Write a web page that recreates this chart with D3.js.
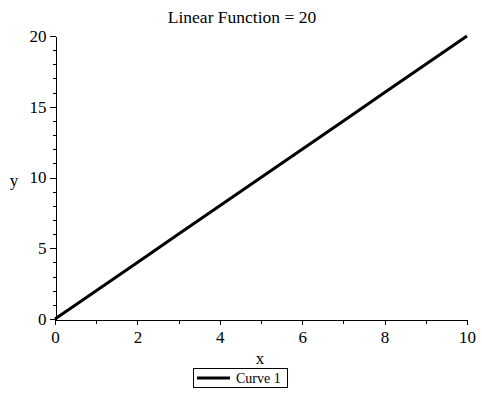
<!DOCTYPE html>
<html><head><meta charset="utf-8">
<script src="https://cdn.jsdelivr.net/npm/d3@7"></script>
<style>body{margin:0;background:#fff}svg{display:block}</style>
</head><body>
<svg id="c" width="482" height="400"></svg>
<script>
const title = "Linear Function = 20";
const xValues = [0,1,2,3,4,5,6,7,8,9,10];
const yValues = [0,2,4,6,8,10,12,14,16,18,20];
const xMajorTicks = [0,2,4,6,8,10];
const xMinorTicks = [1,3,5,7,9];
const yMajorTicks = [0,5,10,15,20];
const yMinorTicks = [1,2,3,4,6,7,8,9,11,12,13,14,16,17,18,19];
const seriesName = "Curve 1";

const FONT = "'Liberation Serif', 'Times New Roman', Times, 'DejaVu Serif', serif";
const svg = d3.select("#c");
const x = d3.scaleLinear().domain([0,10]).range([55,467]);
const y = d3.scaleLinear().domain([0,20]).range([319,36]);

// x axis
const xg = svg.append("g").attr("transform","translate(0,319.5)");
xg.append("g").call(d3.axisBottom(x).tickValues(xMinorTicks).tickSize(4).tickFormat(""))
  .call(g=>g.select(".domain").remove());
xg.append("g").call(d3.axisBottom(x).tickValues(xMajorTicks).tickSize(5).tickSizeOuter(0).tickPadding(6).tickFormat(d3.format("d")));
// y axis
const yg = svg.append("g").attr("transform","translate(55.5,0)");
yg.append("g").call(d3.axisLeft(y).tickValues(yMinorTicks).tickSize(3).tickFormat(""))
  .call(g=>g.select(".domain").remove());
yg.append("g").call(d3.axisLeft(y).tickValues(yMajorTicks).tickSize(6).tickSizeOuter(0).tickPadding(3).tickFormat(d3.format("d")));
svg.selectAll("g").attr("font-family",null).attr("font-size",null);
svg.selectAll(".tick text").style("font-family",FONT).style("font-size","17px").attr("fill","#000");
svg.selectAll(".tick line, .domain").attr("stroke","#000").attr("shape-rendering","crispEdges");

// line
svg.append("path").datum(xValues.map((v,i)=>[v,yValues[i]]))
  .attr("fill","none").attr("stroke","#000").attr("stroke-width",3)
  .attr("d", d3.line().x(d=>x(d[0])).y(d=>y(d[1])));

// title & labels
svg.append("text").attr("x",242).attr("y",23).attr("text-anchor","middle").style("font-family",FONT).style("font-size","17.5px").text(title);
svg.append("text").attr("x",14).attr("y",186).attr("text-anchor","middle").style("font-family",FONT).style("font-size","17px").text("y");
svg.append("text").attr("x",260).attr("y",364).attr("text-anchor","middle").style("font-family",FONT).style("font-size","17px").text("x");

// legend
svg.append("rect").attr("x",193.5).attr("y",368.5).attr("width",94).attr("height",19)
  .attr("fill","#fff").attr("stroke","#000").attr("shape-rendering","crispEdges");
svg.append("line").attr("x1",197).attr("x2",230).attr("y1",378).attr("y2",378).attr("stroke","#000").attr("stroke-width",3);
svg.append("text").attr("x",236).attr("y",383).style("font-family",FONT).style("font-size","14px").text(seriesName);
</script>
</body></html>
